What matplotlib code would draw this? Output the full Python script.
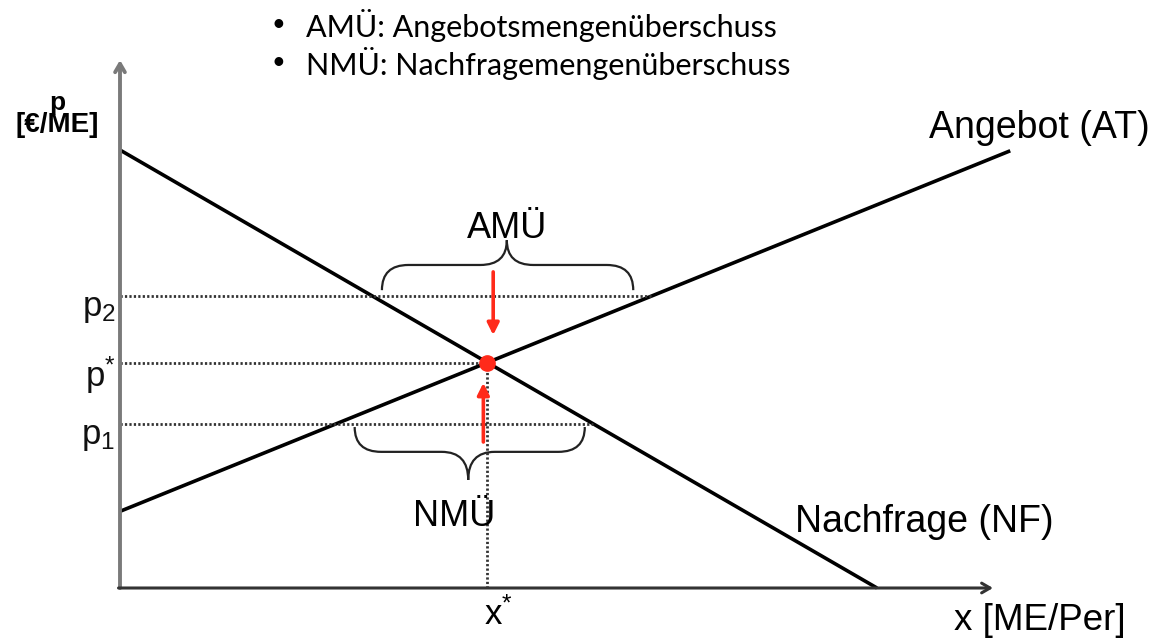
import matplotlib
matplotlib.use("Agg")
import matplotlib.pyplot as plt
import numpy as np
from matplotlib.path import Path
from matplotlib.patches import PathPatch

plt.rcParams['font.family'] = ['Liberation Sans', 'DejaVu Sans']
plt.rcParams['mathtext.fontset'] = 'custom'
plt.rcParams['mathtext.rm'] = 'Liberation Sans'
plt.rcParams['mathtext.it'] = 'Liberation Sans'

# Modell: Nachfrage p = a - b*x, Angebot p = c + d*x
demand_a, demand_b = 12.0, 1.2
supply_c, supply_d = 2.1, 0.84
demand_x = np.array([0.0, 10.0])
supply_x = np.array([0.0, 11.76])

p2 = 8.0
p1 = 4.5
price_labels = [r'$\mathrm{p}_2$', r'$\mathrm{p}^{*}$', r'$\mathrm{p}_1$']

bullets = ['AMÜ: Angebotsmengenüberschuss', 'NMÜ: Nachfragemengenüberschuss']

# Gleichgewicht
x_star = (demand_a - supply_c) / (demand_b + supply_d)
p_star = demand_a - demand_b * x_star

SX, SY = 75.7, 36.5  # Pixel je Einheit
fig = plt.figure(figsize=(11.57, 6.4), dpi=100)
ax = fig.add_axes([0, 0, 1, 1])
ax.set_xlim(-120 / SX, 1037 / SX)
ax.set_ylim(-52 / SY, 588 / SY)
ax.axis('off')

# Achsen
ax.annotate('', xy=(0, 528 / SY), xytext=(0, 0),
            arrowprops=dict(arrowstyle='->,head_length=0.6,head_width=0.35', color='#7a7a7a', lw=2.8,
                            shrinkA=0, shrinkB=0))
ax.annotate('', xy=(873 / SX, 0), xytext=(-1.5 / SX, 0),
            arrowprops=dict(arrowstyle='->,head_length=0.6,head_width=0.35', color='#333333', lw=2.2,
                            shrinkA=0, shrinkB=0))

# Kurven
ax.plot(demand_x, demand_a - demand_b * demand_x, color='black', lw=2.6, solid_capstyle='butt')
ax.plot(supply_x, supply_c + supply_d * supply_x, color='black', lw=2.6, solid_capstyle='butt')

# Hilfslinien
dot = dict(color='#333333', lw=2.0, linestyle=(0, (0.8, 0.8)))
x_p2_supply = (p2 - supply_c) / supply_d
x_p1_demand = (demand_a - p1) / demand_b
ax.plot([0, x_p2_supply], [p2, p2], **dot)
ax.plot([0, x_star], [p_star, p_star], **dot)
ax.plot([0, x_p1_demand], [p1, p1], **dot)
ax.plot([x_star, x_star], [0, p_star], **dot)


def brace(x0, x1, xt, yb, yh, ytip, r=0.35):
    verts = [(x0, yb), (x0, yh), (x0 + r, yh),
             (xt - r, yh), (xt, yh), (xt, ytip),
             (xt, yh), (xt + r, yh),
             (x1 - r, yh), (x1, yh), (x1, yb)]
    codes = [Path.MOVETO, Path.CURVE3, Path.CURVE3,
             Path.LINETO, Path.CURVE3, Path.CURVE3,
             Path.CURVE3, Path.CURVE3,
             Path.LINETO, Path.CURVE3, Path.CURVE3]
    ax.add_patch(PathPatch(Path(verts, codes), fill=False, color='#222222', lw=1.6))


brace(3.46, 6.78, 5.11, 8.16, 8.85, 9.53)
brace(3.10, 6.14, 4.60, 4.41, 3.73, 2.96)

# Pfeile
red = '#ff2a1a'
ax.annotate('', xy=(4.93, 6.93), xytext=(4.93, 8.66),
            arrowprops=dict(arrowstyle='-|>,head_length=0.7,head_width=0.35', color=red, lw=2.6,
                            shrinkA=0, shrinkB=0))
ax.annotate('', xy=(4.80, 5.62), xytext=(4.80, 4.0),
            arrowprops=dict(arrowstyle='-|>,head_length=0.7,head_width=0.35', color=red, lw=2.6,
                            shrinkA=0, shrinkB=0))
ax.plot([x_star], [p_star], 'o', color=red, ms=11, zorder=5)

# Beschriftungen
for lbl, lev in zip(price_labels, [p2, p_star, p1]):
    ax.text(-0.06, lev - 0.35, lbl, ha='right', va='center', fontsize=25, color='#111111')

ax.text(-0.83, 13.3, 'p', ha='center', va='center', fontsize=19, fontweight='bold')
ax.text(-0.83, 12.68, '[€/ME]', ha='center', va='center', fontsize=20, fontweight='bold')

ax.text(x_star + 0.15, -0.72, r'$\mathrm{x}^{*}$', ha='center', va='center', fontsize=25)
ax.text(12.15, -0.88, 'x [ME/Per]', ha='center', va='center', fontsize=26.5)
ax.text(13.60, 12.6, 'Angebot (AT)', ha='right', va='center', fontsize=27)
ax.text(12.33, 1.8, 'Nachfrage (NF)', ha='right', va='center', fontsize=27)
ax.text(5.11, 9.86, 'AMÜ', ha='center', va='center', fontsize=26)
ax.text(4.42, 1.95, 'NMÜ', ha='center', va='center', fontsize=26)

for i, b in enumerate(bullets):
    yy = (588 - 25 - 38 * i) / SY
    ax.text((278 - 120) / SX, yy, '•', ha='center', va='center', fontsize=17, family='Lato')
    ax.text((306 - 120) / SX, yy, b, ha='left', va='center', fontsize=22, family='Lato')

fig.savefig('out.png', dpi=100)
